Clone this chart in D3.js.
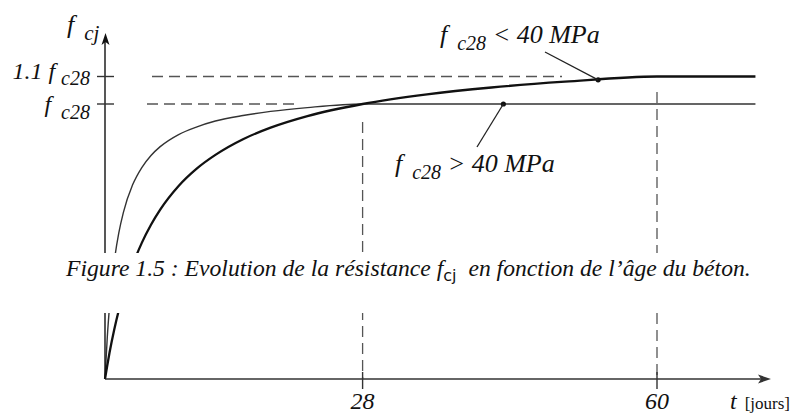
<!DOCTYPE html>
<html>
<head>
<meta charset="utf-8">
<script src="https://cdn.jsdelivr.net/npm/d3@7"></script>
<style>
  body { margin: 0; background: #fff; }
</style>
</head>
<body>
<div id="chart"></div>
<script>
// age of concrete (days)
const days = [0, 0.25, 0.5, 1, 1.5, 2, 3, 4, 5, 6, 8, 10, 12, 15, 18, 22, 28, 35, 42, 50, 60, 70.7];
// relative strength fcj / fc28
const fcLow  = [0, 0.05, 0.097, 0.179, 0.25, 0.312, 0.414, 0.495, 0.561, 0.616, 0.702, 0.766, 0.815, 0.872, 0.914, 0.956, 1.0, 1.035, 1.06, 1.081, 1.1, 1.1];   // fc28 < 40 MPa
const fcHigh = [0, 0.153, 0.267, 0.426, 0.531, 0.606, 0.706, 0.769, 0.813, 0.845, 0.889, 0.917, 0.938, 0.958, 0.973, 0.987, 1.0, 1.0, 1.0, 1.0, 1.0, 1.0]; // fc28 > 40 MPa
const xTicks = [28, 60];
const yLevels = [1.0, 1.1];
const markers = [{t: 53.6, v: 1.088}, {t: 43.3, v: 1.0}];

const width = 802, height = 414;
const serif = "'Liberation Serif', 'Times New Roman', Times, serif";
const svg = d3.select("#chart").append("svg")
  .attr("width", width).attr("height", height)
  .attr("font-family", serif).attr("font-style", "italic").attr("fill", "#111");

const x = d3.scaleLinear().domain([0, 60]).range([105, 657]);
const y = d3.scaleLinear().domain([0, 1.1]).range([379, 76.5]);

const dash = "11,6";
const grey = "#555";

// horizontal reference lines
const hRef = [{v: 1.1, x0: 152, x1: 562}, {v: 1.0, x0: 147, x1: 297}];
svg.selectAll(".href").data(hRef).enter().append("line")
  .attr("x1", d => d.x0).attr("x2", d => d.x1)
  .attr("y1", d => y(d.v)).attr("y2", d => y(d.v))
  .attr("stroke", grey).attr("stroke-width", 1.3).attr("stroke-dasharray", dash);

// vertical reference lines
const vTop = [122, 92];
svg.selectAll(".vref").data(xTicks).enter().append("line")
  .attr("x1", d => x(d)).attr("x2", d => x(d))
  .attr("y1", (d, i) => vTop[i]).attr("y2", y(0))
  .attr("stroke", grey).attr("stroke-width", 1.3).attr("stroke-dasharray", dash);

// curves
const line = d3.line().x((d, i) => x(days[i])).y(d => y(d)).curve(d3.curveMonotoneX);
svg.append("path").attr("d", line(fcHigh))
  .attr("fill", "none").attr("stroke", "#333").attr("stroke-width", 1.4);
svg.append("path").attr("d", line(fcLow))
  .attr("fill", "none").attr("stroke", "#111").attr("stroke-width", 2.3);

// axes
svg.append("line").attr("x1", x(0)).attr("x2", 762).attr("y1", y(0)).attr("y2", y(0))
  .attr("stroke", "#333").attr("stroke-width", 1.4);
svg.append("line").attr("x1", x(0)).attr("x2", x(0)).attr("y1", y(0)).attr("y2", 40)
  .attr("stroke", "#111").attr("stroke-width", 1.4);
svg.append("path").attr("d", "M771,379 L758,374.5 L761,379 L758,383.5 Z").attr("fill", "#333");
svg.append("path").attr("d", "M105.5,33 L101.5,45 L105.5,42 L109.5,45 Z").attr("fill", "#111");

// ticks
svg.selectAll(".xt").data(xTicks).enter().append("line")
  .attr("x1", d => x(d)).attr("x2", d => x(d))
  .attr("y1", y(0) - 7).attr("y2", y(0) + 10)
  .attr("stroke", "#333").attr("stroke-width", 1.4);
svg.selectAll(".yt").data(yLevels).enter().append("line")
  .attr("x1", 97).attr("x2", 114)
  .attr("y1", d => y(d)).attr("y2", d => y(d))
  .attr("stroke", "#333").attr("stroke-width", 1.4);

svg.selectAll(".xl").data(xTicks).enter().append("text")
  .attr("x", d => x(d)).attr("y", 409)
  .attr("text-anchor", "middle").attr("font-size", 24)
  .text(d => d);

const tl = svg.append("text").attr("x", 730).attr("y", 409);
tl.append("tspan").attr("font-size", 24).text("t");
tl.append("tspan").attr("dx", 8).attr("font-size", 17).attr("font-style", "normal").text("[jours]");

// y tick labels
function fLabel(xEnd, yBase, prefix, sub, gap, drop) {
  const t = svg.append("text").attr("x", xEnd).attr("y", yBase).attr("text-anchor", "end");
  if (prefix) t.append("tspan").attr("font-size", 24).text(prefix);
  t.append("tspan").attr("font-size", 24).text("f");
  t.append("tspan").attr("dx", gap).attr("dy", drop).attr("font-size", 20).text(sub);
  return t;
}
fLabel(90, 79, "1.1 ", "c28", 6, 6);
fLabel(90, 112, null, "c28", 10, 7);

// y axis title
const yt = svg.append("text").attr("x", 67).attr("y", 33);
yt.append("tspan").attr("font-size", 26).text("f");
yt.append("tspan").attr("dx", 10).attr("dy", 7).attr("font-size", 21).text("cj");

// annotations
svg.selectAll(".mk").data(markers).enter().append("circle")
  .attr("cx", d => x(d.t)).attr("cy", d => y(d.v)).attr("r", 2.6).attr("fill", "#111");
svg.append("line").attr("x1", 545).attr("y1", 52).attr("x2", x(markers[0].t)).attr("y2", y(markers[0].v))
  .attr("stroke", "#222").attr("stroke-width", 1.3);
svg.append("line").attr("x1", 477).attr("y1", 147).attr("x2", x(markers[1].t)).attr("y2", y(markers[1].v))
  .attr("stroke", "#222").attr("stroke-width", 1.3);

function mpaLabel(x0, yBase, op) {
  const t = svg.append("text").attr("x", x0).attr("y", yBase);
  t.append("tspan").attr("font-size", 26).text("f");
  t.append("tspan").attr("dx", 10).attr("dy", 7).attr("font-size", 20).text("c28");
  t.append("tspan").attr("dy", -7).attr("font-size", 26).text(" " + op + " 40 MPa");
}
mpaLabel(440, 43, "<");
mpaLabel(395, 172, ">");

// caption band
svg.append("rect").attr("x", 0).attr("y", 253).attr("width", width).attr("height", 60).attr("fill", "#fff");
const cap = svg.append("text").attr("x", 66).attr("y", 276).attr("font-size", 22);
cap.append("tspan").text("Figure 1.5 : Evolution de la résistance f");
cap.append("tspan").attr("dy", 5).attr("font-size", 16).attr("font-style", "normal")
  .attr("font-family", "'DejaVu Sans', sans-serif").text("cj");
cap.append("tspan").attr("dy", -5).text("\u00a0 en fonction de l’âge du béton.");
const capW = cap.node().getComputedTextLength();
cap.attr("font-size", 22 * 686 / capW);
</script>
</body>
</html>
